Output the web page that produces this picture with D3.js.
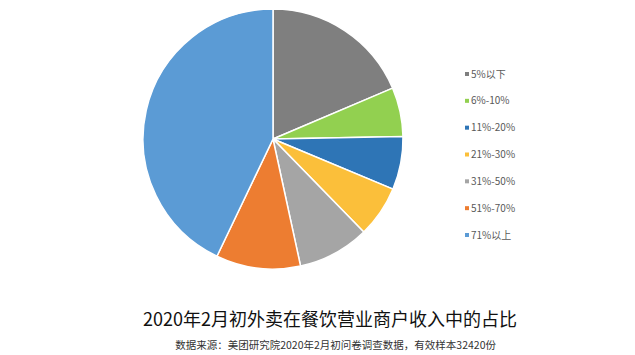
<!DOCTYPE html>
<html><head><meta charset="utf-8">
<script src="https://cdn.jsdelivr.net/npm/d3@7"></script>
<style>body{margin:0;background:#fff}svg{display:block}</style>
</head><body>
<script>
const categories = ["5%以下","6%-10%","11%-20%","21%-30%","31%-50%","51%-70%","71%以上"];
const values = [18.6, 6.1, 6.6, 6.4, 8.9, 10.5, 42.9];
const colors = ["#7f7f7f","#92d050","#2e75b6","#fbbf3a","#a5a5a5","#ed7d31","#5b9bd5"];
const title = "2020年2月初外卖在餐饮营业商户收入中的占比";
const source = "数据来源：美团研究院2020年2月初问卷调查数据，有效样本32420份";

const W = 635, H = 355;
const svg = d3.select("body").append("svg").attr("width", W).attr("height", H);
const font = "'Noto Sans CJK SC','Noto Sans',sans-serif";

const cx = 273, cy = 139, r = 130;
const data = categories.map((c, i) => ({cat: c, value: values[i], color: colors[i]}));
const pie = d3.pie().value(d => d.value).sort(null);
const arc = d3.arc().innerRadius(0).outerRadius(r);
svg.append("g").attr("transform", `translate(${cx},${cy})`)
  .selectAll("path").data(pie(data)).join("path")
  .attr("d", arc).attr("fill", d => d.data.color)
  .attr("stroke", "#fff").attr("stroke-width", 1.5);

const ly = d3.scalePoint().domain(categories).range([74, 235]);
const lg = svg.append("g");
const rows = lg.selectAll("g").data(data).join("g")
  .attr("transform", d => `translate(467,${ly(d.cat)})`);
rows.append("rect").attr("x", -2).attr("y", -2).attr("width", 4).attr("height", 4)
  .attr("fill", d => d.color);
rows.append("text").attr("x", 4).attr("dy", "0.35em")
  .attr("font-family", font).attr("font-size", 10).attr("fill", "#595959")
  .text(d => d.cat);

svg.append("text").attr("x", 143).attr("y", 326)
  .attr("font-family", font).attr("font-size", 18).attr("fill", "#111")
  .text(title);
svg.append("text").attr("x", 496).attr("y", 349).attr("text-anchor", "end")
  .attr("font-family", font).attr("font-size", 10.5).attr("fill", "#333")
  .text(source);
</script>
</body></html>
